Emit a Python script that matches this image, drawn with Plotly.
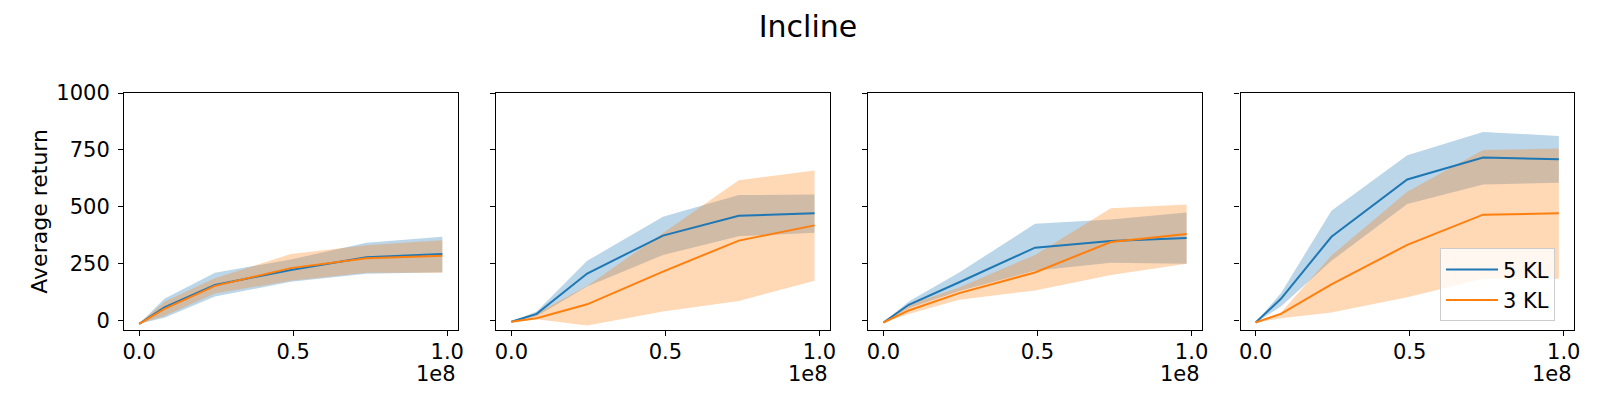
import plotly.graph_objects as go

# ---------------- data ----------------
steps = [0, 8.2e6, 24.6e6, 49.2e6, 73.8e6, 98.4e6]
x_tick_vals = [0, 0.5e8, 1.0e8]
x_tick_text = ["0.0", "0.5", "1.0"]
y_tick_vals = [0, 250, 500, 750, 1000]
y_tick_text = ["0", "250", "500", "750", "1000"]
series_names = ["5 KL", "3 KL"]

# panel 1
p1_kl5_mean = [-15, 57, 156, 222, 278, 292]
p1_kl5_upper = [-15, 95, 210, 268, 342, 368]
p1_kl5_lower = [-15, 12, 105, 170, 205, 212]
p1_kl3_mean = [-15, 51, 152, 230, 273, 284]
p1_kl3_upper = [-15, 82, 185, 292, 331, 353]
p1_kl3_lower = [-15, 20, 118, 175, 210, 210]

# panel 2
p2_kl5_mean = [-6, 29, 206, 373, 460, 471]
p2_kl5_upper = [-6, 39, 262, 456, 551, 554]
p2_kl5_lower = [-6, 18, 149, 288, 370, 386]
p2_kl3_mean = [-6, 10, 71, 215, 351, 418]
p2_kl3_upper = [-6, 32, 152, 383, 616, 659]
p2_kl3_lower = [-6, 5, -22, 39, 86, 175]

# panel 3
p3_kl5_mean = [-9, 69, 168, 320, 349, 363]
p3_kl5_upper = [-9, 83, 211, 425, 444, 475]
p3_kl5_lower = [-9, 54, 130, 219, 254, 249]
p3_kl3_mean = [-9, 44, 120, 211, 345, 380]
p3_kl3_upper = [-9, 69, 145, 288, 493, 510]
p3_kl3_lower = [-9, 28, 91, 132, 200, 249]

# panel 4
p4_kl5_mean = [-9, 95, 368, 620, 716, 709]
p4_kl5_upper = [-9, 120, 482, 726, 829, 811]
p4_kl5_lower = [-9, 61, 262, 512, 598, 605]
p4_kl3_mean = [-9, 29, 159, 332, 465, 471]
p4_kl3_upper = [-9, 35, 285, 566, 749, 756]
p4_kl3_lower = [-9, 10, 35, 102, 183, 183]

panels = [
    [(p1_kl5_mean, p1_kl5_upper, p1_kl5_lower), (p1_kl3_mean, p1_kl3_upper, p1_kl3_lower)],
    [(p2_kl5_mean, p2_kl5_upper, p2_kl5_lower), (p2_kl3_mean, p2_kl3_upper, p2_kl3_lower)],
    [(p3_kl5_mean, p3_kl5_upper, p3_kl5_lower), (p3_kl3_mean, p3_kl3_upper, p3_kl3_lower)],
    [(p4_kl5_mean, p4_kl5_upper, p4_kl5_lower), (p4_kl3_mean, p4_kl3_upper, p4_kl3_lower)],
]

# ---------------- style ----------------
FONT = "DejaVu Sans"
line_colors = ["#1f77b4", "#ff7f0e"]
fill_colors = ["rgba(31,119,180,0.3)", "rgba(255,127,14,0.3)"]
W, H = 1600, 400
ML, MR, MT, MB = 116, 34, 85, 78
domains = [[0.0, 0.23], [0.2567, 0.4867], [0.5133, 0.7433], [0.77, 1.0]]
x_range = [-4.92e6, 103.32e6]
y_range = [-42, 1000]

fig = go.Figure()
for i, panel in enumerate(panels):
    xa = "x" if i == 0 else f"x{i+1}"
    ya = "y" if i == 0 else f"y{i+1}"
    # bands
    for k, (mean, upper, lower) in enumerate(panel):
        fig.add_trace(go.Scatter(
            x=steps + steps[::-1], y=upper + lower[::-1],
            fill="toself", fillcolor=fill_colors[k], mode="lines",
            line=dict(width=0, color=fill_colors[k]),
            hoverinfo="skip", showlegend=False, xaxis=xa, yaxis=ya))
    # mean lines
    for k, (mean, upper, lower) in enumerate(panel):
        fig.add_trace(go.Scatter(
            x=steps, y=mean, mode="lines", name=series_names[k],
            line=dict(color=line_colors[k], width=2),
            showlegend=(i == 3), xaxis=xa, yaxis=ya))

axis_common = dict(showgrid=False, zeroline=False, showline=True, mirror=True,
                   linecolor="black", linewidth=1.1, ticks="outside", ticklen=5,
                   tickwidth=1.1, tickcolor="black",
                   tickfont=dict(family=FONT, size=21, color="black"))
layout = dict(
    width=W, height=H,
    margin=dict(l=ML, r=MR, t=MT, b=MB),
    paper_bgcolor="white", plot_bgcolor="white",
    font=dict(family=FONT, size=21, color="black"),
    title=dict(text="Incline", x=0.5, xanchor="center", xref="container",
               y=0.9545, yref="container", yanchor="middle",
               font=dict(family=FONT, size=30, color="black")),
    legend=dict(x=0.9869, xanchor="right", y=0.036, yanchor="bottom",
                bgcolor="rgba(255,255,255,0.8)", bordercolor="#cccccc", borderwidth=1,
                font=dict(family=FONT, size=21, color="black"),
                itemwidth=52, tracegroupgap=0),
    showlegend=True,
)
annotations = []
for i in range(4):
    xk = "xaxis" if i == 0 else f"xaxis{i+1}"
    yk = "yaxis" if i == 0 else f"yaxis{i+1}"
    layout[xk] = dict(axis_common, domain=domains[i], range=x_range,
                      tickvals=x_tick_vals, ticktext=x_tick_text,
                      ticklabelstandoff=-2,
                      anchor="y" if i == 0 else f"y{i+1}")
    layout[yk] = dict(axis_common, domain=[0, 1], range=y_range,
                      tickvals=y_tick_vals, ticktext=y_tick_text,
                      showticklabels=(i == 0), ticklabelstandoff=4,
                      anchor="x" if i == 0 else f"x{i+1}")
    annotations.append(dict(text="1e8", xref="paper", yref="paper",
                            x=domains[i][1], y=-0.125, xanchor="right", yanchor="top",
                            showarrow=False, font=dict(family=FONT, size=21, color="black")))
annotations.append(dict(text="Average return", xref="paper", yref="paper",
                        x=-0.0585, y=0.5, xanchor="center", yanchor="middle",
                        textangle=-90, showarrow=False,
                        font=dict(family=FONT, size=22, color="black")))
layout["annotations"] = annotations
fig.update_layout(**layout)
fig.write_html("out.html")
